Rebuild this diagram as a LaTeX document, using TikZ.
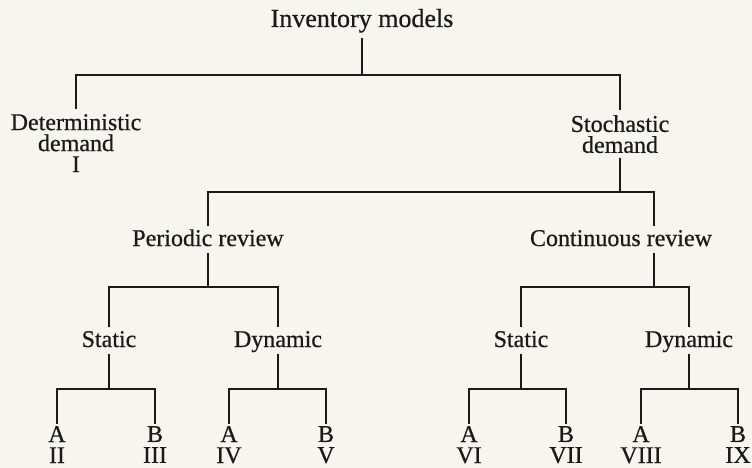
\documentclass[tikz,border=0pt]{standalone}
\usepackage{fontspec}
\setmainfont{Liberation Serif}[FakeBold=0.6]
\definecolor{paper}{RGB}{247,245,239}
\definecolor{ink}{RGB}{28,26,24}
\begin{document}
\begin{tikzpicture}[x=1pt,y=-1pt,
  lbl/.style={font=\fontsize{24}{21}\selectfont, text=ink, inner xsep=2pt, inner ysep=3pt},
  one/.style={lbl, anchor=base, text height=16.5pt, text depth=4pt},
  multi/.style={lbl, anchor=north, align=center},
  leaf/.style={lbl, anchor=north, align=center, inner ysep=2pt},
  tree/.style={draw=ink, line width=2.2pt, line join=miter}
]
% paper
\fill[paper] (0,0) rectangle (752,468);
\useasboundingbox (0,0) rectangle (752,468);

% top level
\node[one, font=\fontsize{26}{22}\selectfont, text depth=8pt] (root) at (362,27) {Inventory models};
\node[multi, inner ysep=5pt] (det) at (76,109) {Deterministic\\demand\\I};
\node[multi, inner ysep=5pt] (sto) at (620,110) {Stochastic\\demand};

% review policy
\node[one] (per) at (208,246) {Periodic review};
\node[one] (con) at (621,246) {Continuous review};
\path (con.north) ++(33,0) coordinate (conN);
\path (con.south) ++(33,0) coordinate (conS);

% static / dynamic
\node[one] (sL) at (109,347) {Static};
\node[one] (dL) at (278,347) {Dynamic};
\node[one] (sR) at (521,347) {Static};
\node[one] (dR) at (689,347) {Dynamic};

% leaves
\node[leaf] (l2) at (57,424) {A\\II};
\node[leaf] (l3) at (155,424) {B\\III};
\node[leaf] (l4) at (229,424) {A\\IV};
\node[leaf] (l5) at (326,424) {B\\V};
\node[leaf] (l6) at (469,424) {A\\VI};
\node[leaf] (l7) at (566,424) {B\\VII};
\node[leaf] (l8) at (641,424) {A\\VIII};
\node[leaf] (l9) at (738,424) {B\\IX};

% junctions on the horizontal bars
\coordinate (j1) at (362,75);
\coordinate (j2) at (620,192);
\coordinate (j3L) at (208,287);
\coordinate (j3R) at (654,287);
\coordinate (j4a) at (109,389);
\coordinate (j4b) at (278,389);
\coordinate (j4c) at (521,389);
\coordinate (j4d) at (689,389);

% connectors
\draw[tree] (root.south) -- (j1);
\draw[tree] (det.north) |- (j1) -| (sto.north);

\draw[tree] (sto.south) -- (j2);
\draw[tree] (per.north) |- (j2) -| (conN);

\draw[tree] (per.south) -- (j3L);
\draw[tree] (sL.north) |- (j3L) -| (dL.north);
\draw[tree] (conS) -- (j3R);
\draw[tree] (sR.north) |- (j3R) -| (dR.north);

\draw[tree] (sL.south) -- (j4a);
\draw[tree] (l2.north) |- (j4a) -| (l3.north);
\draw[tree] (dL.south) -- (j4b);
\draw[tree] (l4.north) |- (j4b) -| (l5.north);
\draw[tree] (sR.south) -- (j4c);
\draw[tree] (l6.north) |- (j4c) -| (l7.north);
\draw[tree] (dR.south) -- (j4d);
\draw[tree] (l8.north) |- (j4d) -| (l9.north);
\end{tikzpicture}
\end{document}
